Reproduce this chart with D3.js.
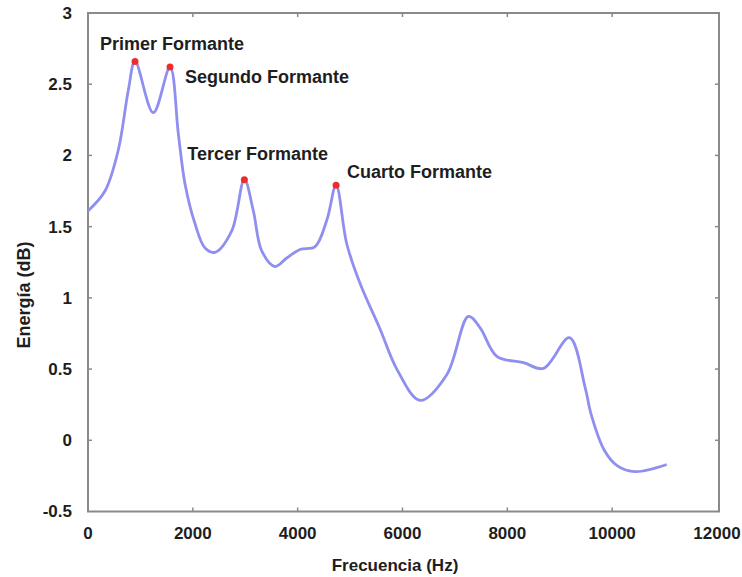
<!DOCTYPE html>
<html>
<head>
<meta charset="utf-8">
<script src="https://cdn.jsdelivr.net/npm/d3@7/dist/d3.min.js"></script>
<style>
  body { margin: 0; background: #fff; }
  text { font-family: "Liberation Sans", Arial, sans-serif; font-weight: bold; fill: #1e1e1e; }
</style>
</head>
<body>
<div id="chart"></div>
<script>
// spectrum envelope
const freqs = [0, 324, 579, 770, 897, 1246, 1565, 1724, 1851, 2042, 2233, 2424,
    2742, 2983, 3155, 3314, 3569, 3791, 4046, 4332, 4560, 4733, 4936, 5191,
    5573, 5891, 6336, 6845, 7258, 7481, 7799, 8308, 8689, 9185, 9485, 9600, 9850, 10100, 10439, 11040];
const energy = [1.61, 1.75, 2.04, 2.46, 2.66, 2.30, 2.62, 2.15, 1.80, 1.52, 1.35, 1.32,
    1.47, 1.83, 1.61, 1.33, 1.22, 1.28, 1.34, 1.36, 1.55, 1.79, 1.38, 1.10,
    0.78, 0.50, 0.28, 0.46, 0.87, 0.79, 0.59, 0.545, 0.505, 0.72, 0.37, 0.18, -0.07, -0.18, -0.22, -0.17];

// formant peaks
const formantFreqs = [897, 1565, 2983, 4733];
const formantValues = [2.66, 2.62, 1.83, 1.79];
const formantLabels = ["Primer Formante", "Segundo Formante", "Tercer Formante", "Cuarto Formante"];
// label placement relative to each peak (px)
const labelOffsets = [[-35, -18], [15, 10], [-57, -26], [11, -14]];

const xTicks = [0, 2000, 4000, 6000, 8000, 10000, 12000];
const yTicks = [-0.5, 0, 0.5, 1, 1.5, 2, 2.5, 3];

const width = 742, height = 577;
const margin = { top: 13, right: 25, bottom: 66, left: 88 };

const svg = d3.select("#chart").append("svg")
    .attr("width", width)
    .attr("height", height);

const x = d3.scaleLinear().domain([0, 12000]).range([margin.left, width - margin.right]);
const y = d3.scaleLinear().domain([-0.5, 3]).range([height - margin.bottom + 0.5, margin.top]);

const axisColor = "#8a8a8a";

// frame with inward ticks on all sides
svg.append("rect")
    .attr("x", x(0))
    .attr("y", y(3))
    .attr("width", x(12000) - x(0) + 2)
    .attr("height", y(-0.5) - y(3))
    .attr("fill", "none")
    .attr("stroke", axisColor)
    .attr("stroke-width", 2);

const tickLen = 4;
const ticks = svg.append("g").attr("stroke", axisColor).attr("stroke-width", 1.5);
xTicks.slice(1, -1).forEach(t => {
    ticks.append("line").attr("x1", x(t)).attr("x2", x(t)).attr("y1", y(-0.5)).attr("y2", y(-0.5) - tickLen);
    ticks.append("line").attr("x1", x(t)).attr("x2", x(t)).attr("y1", y(3)).attr("y2", y(3) + tickLen);
});
yTicks.slice(1, -1).forEach(t => {
    ticks.append("line").attr("x1", x(0)).attr("x2", x(0) + tickLen).attr("y1", y(t)).attr("y2", y(t));
    ticks.append("line").attr("x1", x(12000) + 2).attr("x2", x(12000) + 2 - tickLen).attr("y1", y(t)).attr("y2", y(t));
});

// tick labels
svg.append("g")
    .selectAll("text")
    .data(xTicks)
    .enter().append("text")
    .attr("x", d => x(d))
    .attr("y", 533)
    .attr("dy", "0.35em")
    .attr("text-anchor", "middle")
    .style("font-size", "17px")
    .text(d => d);

svg.append("g")
    .selectAll("text")
    .data(yTicks)
    .enter().append("text")
    .attr("x", 72)
    .attr("y", d => y(d))
    .attr("dy", "0.35em")
    .attr("text-anchor", "end")
    .style("font-size", "17px")
    .text(d => d);

// axis titles
svg.append("text")
    .attr("x", 395)
    .attr("y", 565)
    .attr("dy", "0.35em")
    .attr("text-anchor", "middle")
    .style("font-size", "17px")
    .text("Frecuencia (Hz)");

svg.append("text")
    .attr("transform", "translate(24,295) rotate(-90)")
    .attr("dy", "0.35em")
    .attr("text-anchor", "middle")
    .style("font-size", "18px")
    .text("Energía (dB)");

// the curve
const line = d3.line()
    .x((d, i) => x(freqs[i]))
    .y(d => y(d))
    .curve(d3.curveCatmullRom.alpha(0.5));

svg.append("path")
    .datum(energy)
    .attr("d", line)
    .attr("fill", "none")
    .attr("stroke", "#8f8ff0")
    .attr("stroke-width", 2.8)
    .attr("stroke-linejoin", "round");

// formant markers
svg.append("g")
    .selectAll("circle")
    .data(formantFreqs)
    .enter().append("circle")
    .attr("cx", d => x(d))
    .attr("cy", (d, i) => y(formantValues[i]))
    .attr("r", 3.5)
    .attr("fill", "#ee2c2c");

svg.append("g")
    .selectAll("text")
    .data(formantFreqs)
    .enter().append("text")
    .attr("x", (d, i) => x(d) + labelOffsets[i][0])
    .attr("y", (d, i) => y(formantValues[i]) + labelOffsets[i][1])
    .attr("dy", "0.35em")
    .style("font-size", "18px")
    .text((d, i) => formantLabels[i]);
</script>
</body>
</html>
